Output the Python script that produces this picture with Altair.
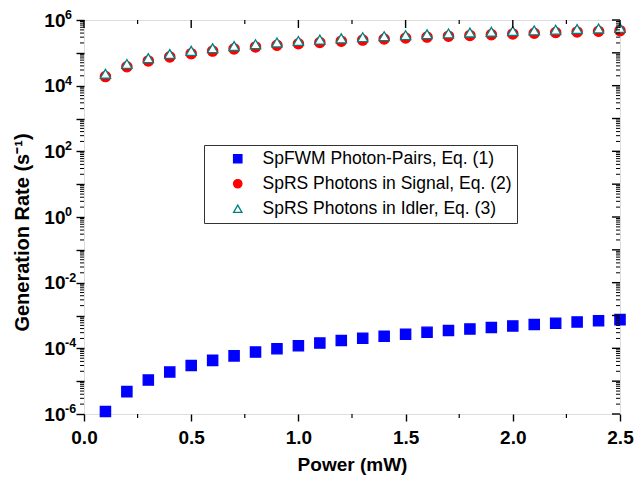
import altair as alt
import pandas as pd

power = [0.1, 0.2, 0.3, 0.4, 0.5, 0.6, 0.7, 0.8, 0.9, 1.0, 1.1, 1.2, 1.3,
         1.4, 1.5, 1.6, 1.7, 1.8, 1.9, 2.0, 2.1, 2.2, 2.3, 2.4, 2.5]
fwm = [1.2e-6, 4.8e-6, 1.08e-5, 1.9e-5, 3.0e-5, 4.3e-5, 5.9e-5, 7.7e-5, 9.7e-5,
       1.2e-4, 1.45e-4, 1.73e-4, 2.03e-4, 2.35e-4, 2.7e-4, 3.07e-4, 3.47e-4,
       3.89e-4, 4.33e-4, 4.8e-4, 5.3e-4, 5.8e-4, 6.35e-4, 6.9e-4, 7.5e-4]
signal = [1.89e4, 3.77e4, 5.66e4, 7.54e4, 9.43e4, 1.13e5, 1.32e5, 1.51e5, 1.70e5,
          1.89e5, 2.07e5, 2.26e5, 2.45e5, 2.64e5, 2.83e5, 3.02e5, 3.21e5, 3.39e5,
          3.58e5, 3.77e5, 3.96e5, 4.15e5, 4.34e5, 4.53e5, 4.72e5]
idler = [2.3e4, 4.6e4, 6.9e4, 9.2e4, 1.15e5, 1.38e5, 1.61e5, 1.84e5, 2.07e5,
         2.3e5, 2.53e5, 2.76e5, 2.99e5, 3.22e5, 3.45e5, 3.68e5, 3.91e5, 4.14e5,
         4.37e5, 4.6e5, 4.83e5, 5.06e5, 5.29e5, 5.52e5, 5.75e5]

series_names = ["SpFWM Photon-Pairs, Eq. (1)",
                "SpRS Photons in Signal, Eq. (2)",
                "SpRS Photons in Idler, Eq. (3)"]

x_major = [0.0, 0.5, 1.0, 1.5, 2.0, 2.5]
x_minor = [0.25, 0.75, 1.25, 1.75, 2.25]
y_major = [10.0 ** e for e in range(-6, 7)]
y_minor = [m * 10.0 ** e for e in range(-6, 6) for m in range(2, 10)]
label_exps = [-6, -4, -2, 0, 2, 4, 6]

W, H = 536, 394

rows = []
for vals, name in zip([fwm, signal, idler], series_names):
    for p, v in zip(power, vals):
        rows.append({"power": p, "rate": v, "series": name})
df = pd.DataFrame(rows)
exp_df = pd.DataFrame({"val": [10.0 ** e for e in label_exps],
                       "txt": [str(e) for e in label_exps]})
xmaj_df = pd.DataFrame({"v": x_major})
xmin_df = pd.DataFrame({"v": x_minor})
ymaj_df = pd.DataFrame({"v": y_major})
ymin_df = pd.DataFrame({"v": y_minor})

FONT = "Liberation Sans"

def xs():
    return alt.Scale(domain=[0, 2.5], nice=False, zero=False)

def ys():
    return alt.Scale(type="log", domain=[1e-6, 1e6], nice=False)

label_expr = "(round(log(datum.value)/LN10) % 2 == 0) ? '10' : ''"

leg = alt.Legend(title=None, orient="none", legendX=120, legendY=125,
                 strokeColor="#333333", fillColor="white", padding=5,
                 labelFont=FONT, labelFontSize=17.5, labelColor="black",
                 symbolSize=70, symbolStrokeWidth=1.3, rowPadding=6,
                 symbolOffset=20, labelOffset=16, labelLimit=500)

dom = series_names
shape_enc = alt.Shape("series:N", scale=alt.Scale(domain=dom, range=["square", "circle", "triangle-up"]), legend=leg)
fill_enc = alt.Fill("series:N", scale=alt.Scale(domain=dom, range=["#0000ff", "#ff0000", "#ffffff"]), legend=leg)
stroke_enc = alt.Stroke("series:N", scale=alt.Scale(domain=dom, range=["#0000ff", "#ff0000", "#008080"]), legend=leg)

points = alt.Chart(df).mark_point(filled=False, opacity=1, strokeWidth=1.3, size=105).encode(
    x=alt.X("power:Q", scale=xs(),
            axis=alt.Axis(orient="bottom", values=x_major, format=".1f", title="Power (mW)",
                          tickSize=7, tickColor="black", tickWidth=1.4, domain=False, grid=False,
                          labelFont=FONT, labelFontSize=19, labelFontWeight="bold", labelColor="black",
                          labelPadding=7, titleFont=FONT, titleFontSize=19, titleFontWeight="bold",
                          titleColor="black", titlePadding=8, labelFlush=False)),
    y=alt.Y("rate:Q", scale=ys(),
            axis=alt.Axis(orient="left", values=y_major, labelExpr=label_expr,
                          title="Generation Rate (s\u207b\u00b9)",
                          tickSize=8, tickColor="black", tickWidth=1.4, domain=False, grid=False,
                          labelFont=FONT, labelFontSize=19, labelFontWeight="bold", labelColor="black",
                          labelPadding=11, titleFont=FONT, titleFontSize=20, titleFontWeight="bold",
                          titleColor="black", titlePadding=11, titleY=212, labelFlush=False)),
    shape=shape_enc, fill=fill_enc, stroke=stroke_enc,
)

def yticks(data, x1, x2, sw):
    return alt.Chart(data).mark_rule(color="black", strokeWidth=sw).encode(
        y=alt.Y("v:Q", scale=ys(), axis=None),
        x=alt.value(x1), x2=alt.value(x2))

def xticks(data, y1, y2, sw):
    return alt.Chart(data).mark_rule(color="black", strokeWidth=sw).encode(
        x=alt.X("v:Q", scale=xs(), axis=None),
        y=alt.value(y1), y2=alt.value(y2))

tick_layers = [
    yticks(ymin_df, -4, 0, 1.0),          # left minor (outward)
    yticks(ymaj_df, W - 8, W, 1.4),       # right major (inward)
    yticks(ymin_df, W - 4, W, 1.0),       # right minor (inward)
    xticks(xmin_df, H, H + 4, 1.2),       # bottom minor (outward)
    xticks(xmaj_df, 0, 8, 1.4),           # top major (inward)
    xticks(xmin_df, 0, 4, 1.2),           # top minor (inward)
]

exps = alt.Chart(exp_df).mark_text(
    align="left", baseline="middle", font=FONT, fontSize=12.5, fontWeight="bold",
    color="black", dy=-5
).encode(
    x=alt.value(-19),
    y=alt.Y("val:Q", scale=ys(), axis=None),
    text="txt:N",
)

chart = alt.layer(points, *tick_layers, exps).resolve_scale(
    x="independent", y="independent"
).resolve_axis(
    x="independent", y="independent"
).properties(
    width=W, height=H,
    autosize=alt.AutoSizeParams(type="none"),
    padding={"left": 76, "top": 12, "right": 14, "bottom": 65},
).configure_view(stroke="black", strokeWidth=1.6).configure(background="white")

chart.save("out.html", embed_options={"renderer": "svg", "actions": False})
